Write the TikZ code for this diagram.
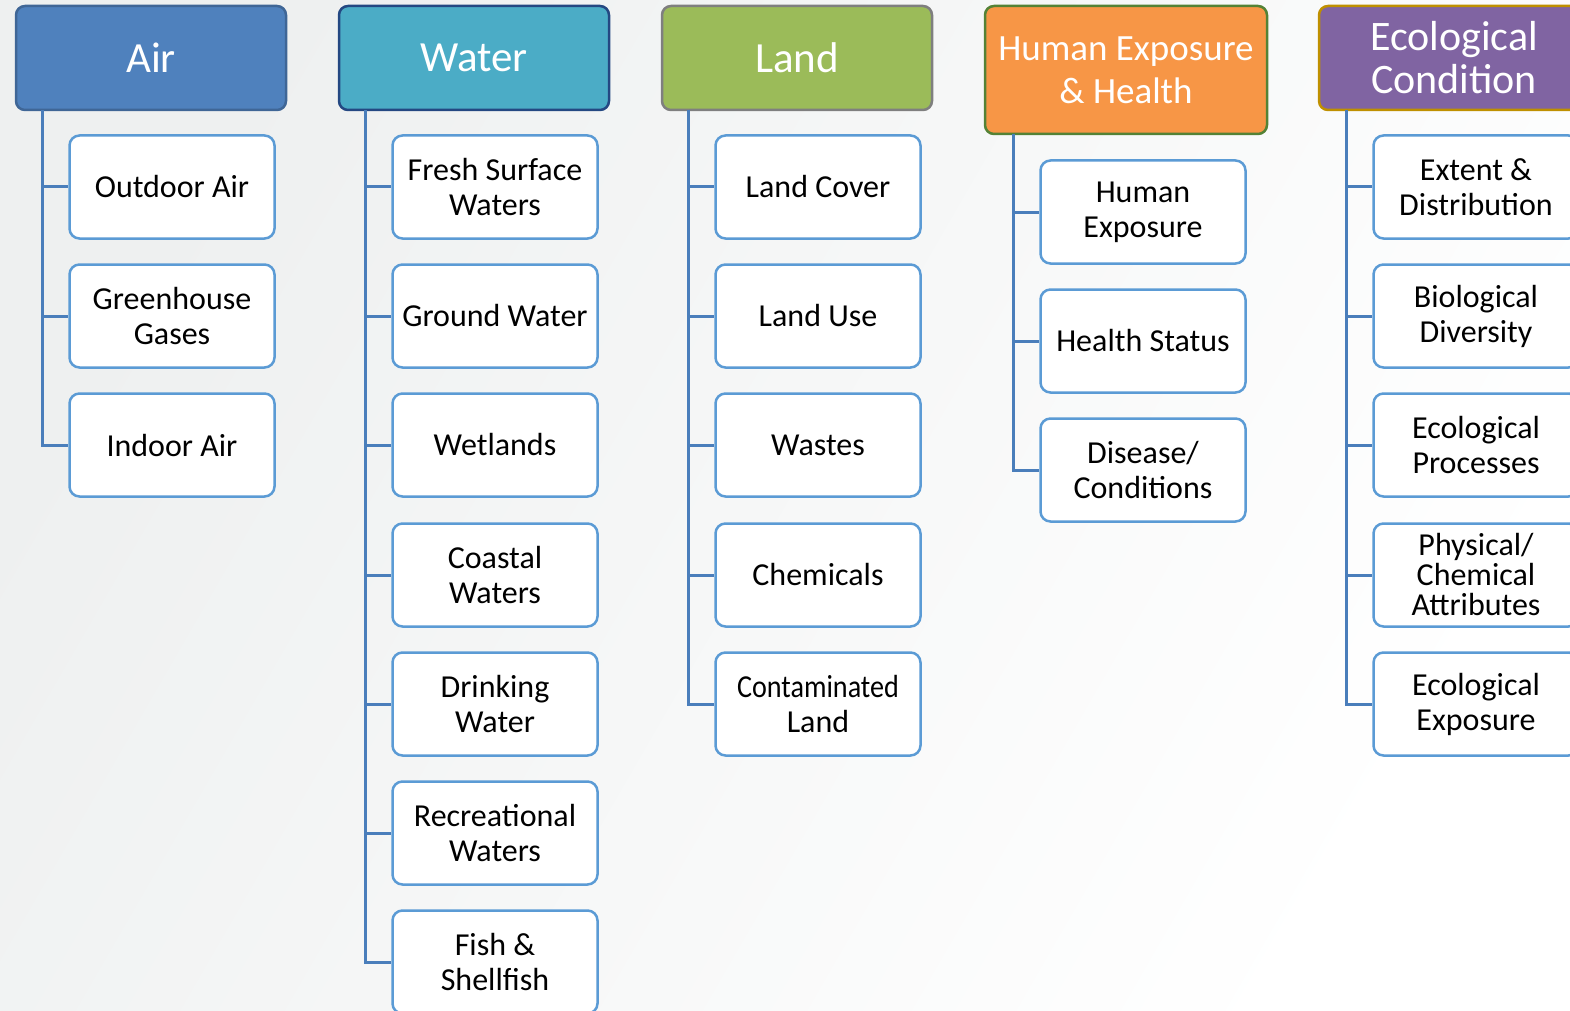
\documentclass[tikz,border=0pt]{standalone}
\usepackage{fontspec}
\setmainfont{Carlito}
\definecolor{bgg}{RGB}{238,240,240}
\definecolor{airf}{RGB}{79,129,189}
\definecolor{aird}{RGB}{63,102,150}
\definecolor{watf}{RGB}{75,172,198}
\definecolor{watd}{RGB}{36,72,130}
\definecolor{landf}{RGB}{155,187,89}
\definecolor{landd}{RGB}{127,127,127}
\definecolor{humf}{RGB}{247,150,70}
\definecolor{humd}{RGB}{84,130,53}
\definecolor{ecof}{RGB}{128,100,162}
\definecolor{ecod}{RGB}{191,144,0}
\definecolor{kidd}{RGB}{91,155,213}
\definecolor{trunkc}{RGB}{74,126,187}
\tikzset{
  hdr/.style={draw, line width=2.5pt, rounded corners=9pt, text=white, align=center,
    minimum width=270pt, minimum height=104pt, inner sep=2pt,
    font=\fontsize{43}{43}\selectfont},
  kid/.style={draw=kidd, fill=white, line width=2.5pt, rounded corners=10pt, align=center,
    minimum width=205pt, minimum height=103pt, inner sep=2pt,
    font=\fontsize{32}{35}\selectfont},
  trunk/.style={draw=trunkc, line width=3pt}
}
\begin{document}
\begin{tikzpicture}[x=1pt,y=-1pt]
\useasboundingbox (0,0) rectangle (1570,1011);
\fill[left color=bgg, right color=white, shading angle=60] (0,0) rectangle (1570,1011);

% headers
\node[hdr, fill=airf, draw=aird] (air) at (151,58) {Air};
\node[hdr, fill=watf, draw=watd] (wat) at (474,58) {Water};
\node[hdr, fill=landf, draw=landd] (land) at (797,58) {Land};
\node[hdr, fill=humf, draw=humd, minimum width=282pt, minimum height=128pt,
  font=\fontsize{37}{43}\selectfont] (hum) at (1126,70) {Human Exposure\\\& Health};
\node[hdr, fill=ecof, draw=ecod, font=\fontsize{42}{43}\selectfont] (eco) at (1454,58) {Ecological\\Condition};

% trunk start coordinates
\coordinate (airT) at (42,110);
\coordinate (watT) at (365,110);
\coordinate (landT) at (688,110);
\coordinate (humT) at (1013,134);
\coordinate (ecoT) at (1346,110);

% Air
\node[kid] (a1) at (172,187) {Outdoor Air};
\node[kid] (a2) at (172,316) {Greenhouse\\Gases};
\node[kid] (a3) at (172,445) {Indoor Air};
% Water
\node[kid] (w1) at (495,187) {Fresh Surface\\Waters};
\node[kid] (w2) at (495,316) {Ground Water};
\node[kid] (w3) at (495,445) {Wetlands};
\node[kid] (w4) at (495,575) {Coastal\\Waters};
\node[kid] (w5) at (495,704) {Drinking\\Water};
\node[kid] (w6) at (495,833) {Recreational\\Waters};
\node[kid] (w7) at (495,962) {Fish \&\\Shellfish};
% Land
\node[kid] (l1) at (818,187) {Land Cover};
\node[kid] (l2) at (818,316) {Land Use};
\node[kid] (l3) at (818,445) {Wastes};
\node[kid] (l4) at (818,575) {Chemicals};
\node[kid] (l5) at (818,704) {\scalebox{0.88}[1]{Contaminated}\\Land};
% Human
\node[kid] (h1) at (1143,212) {Human\\Exposure};
\node[kid] (h2) at (1143,341) {Health Status};
\node[kid] (h3) at (1143,470) {Disease/\\Conditions};
% Ecological
\node[kid] (e1) at (1476,187) {Extent \&\\Distribution};
\node[kid] (e2) at (1476,316) {Biological\\Diversity};
\node[kid] (e3) at (1476,445) {Ecological\\Processes};
\node[kid, font=\fontsize{32}{30}\selectfont] (e4) at (1476,575) {Physical/\\Chemical\\Attributes};
\node[kid] (e5) at (1476,704) {Ecological\\Exposure};

% connectors
\foreach \k in {a1,a2,a3} \draw[trunk] (airT) |- (\k.west);
\foreach \k in {w1,w2,w3,w4,w5,w6,w7} \draw[trunk] (watT) |- (\k.west);
\foreach \k in {l1,l2,l3,l4,l5} \draw[trunk] (landT) |- (\k.west);
\foreach \k in {h1,h2,h3} \draw[trunk] (humT) |- (\k.west);
\foreach \k in {e1,e2,e3,e4,e5} \draw[trunk] (ecoT) |- (\k.west);
\end{tikzpicture}
\end{document}
